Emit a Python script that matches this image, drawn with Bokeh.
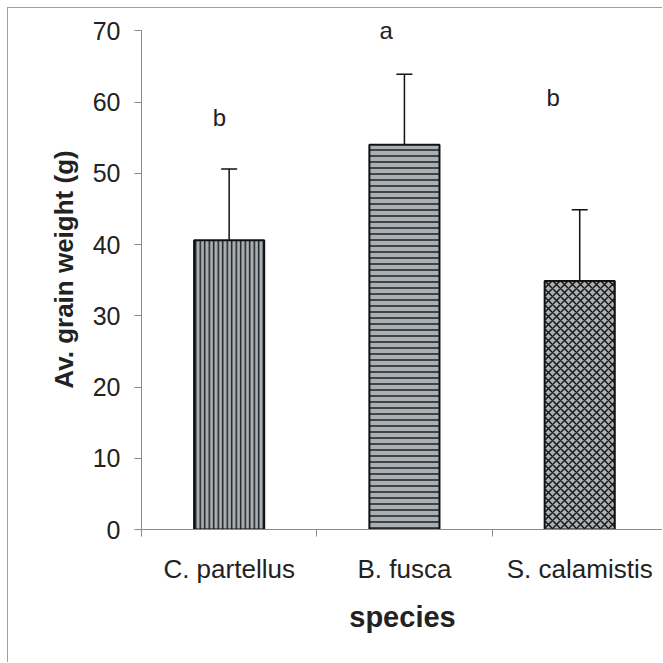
from bokeh.plotting import figure
from bokeh.models import (ColumnDataSource, Range1d, FixedTicker, Whisker, TeeHead,
                          LabelSet)
from bokeh.core.properties import value
from bokeh.embed import file_html
from bokeh.resources import INLINE

# ---- data ----
species = ["C. partellus", "B. fusca", "S. calamistis"]
mean_weight = [40.6, 54.0, 34.9]
err_upper = [10.0, 9.9, 10.0]
hatches = ["vertical_line", "horizontal_line", "diagonal_cross"]
hatch_scales = [4.5, 6.0, 8.0]
sig_letters = ["b", "a", "b"]
letter_x = [0.444, 1.396, 2.349]
letter_y = [57.9, 70.1, 60.7]
y_ticks = [0, 10, 20, 30, 40, 50, 60, 70]
y_max = 70

FONT = "Liberation Sans"
TXT = "#222222"
AX = "#8a8a8a"

xc = [i + 0.5 for i in range(len(species))]
tops = [m + e for m, e in zip(mean_weight, err_upper)]
bars = ColumnDataSource(dict(x=xc, top=mean_weight, hatch=hatches, hs=hatch_scales))
errs = ColumnDataSource(dict(x=xc, lower=mean_weight, upper=tops))
lets = ColumnDataSource(dict(x=letter_x, y=letter_y, t=sig_letters))

p = figure(width=655, height=655, output_backend="svg", toolbar_location=None,
           x_range=Range1d(0, 2.978), y_range=Range1d(0, 73.0),
           min_border_left=133, min_border_right=0, min_border_top=1,
           min_border_bottom=134)
p.styles = {"margin-left": "7px", "margin-top": "7px",
            "border-left": "1px solid #9aa0a6", "border-top": "1px solid #9aa0a6"}
p.outline_line_color = None
p.xgrid.grid_line_color = None
p.ygrid.grid_line_color = None
p.background_fill_color = "white"
p.border_fill_color = "white"

p.vbar(x="x", top="top", bottom=0, width=0.4, source=bars,
       fill_color="#a9afb3", line_color="#111111", line_width=2,
       hatch_pattern="hatch", hatch_scale="hs", hatch_color="#141414",
       hatch_weight=1.4)

p.add_layout(Whisker(base="x", lower="lower", upper="upper", source=errs,
                     dimension="height", line_color="#111111", line_width=1.5,
                     lower_head=None,
                     upper_head=TeeHead(size=16, line_color="#111111", line_width=1.5)))

p.add_layout(LabelSet(x="x", y="y", text="t", source=lets, text_align="center",
                      text_baseline="middle", text_font=value(FONT),
                      text_font_size="24px", text_color=TXT))

# y axis
ya = p.yaxis[0]
ya.bounds = (0, y_max)
ya.ticker = FixedTicker(ticks=y_ticks)
ya.minor_tick_line_color = None
ya.major_tick_in = 0
ya.major_tick_out = 7
ya.axis_line_color = AX
ya.major_tick_line_color = AX
ya.major_label_standoff = 14
ya.major_label_text_font = FONT
ya.major_label_text_font_size = "25px"
ya.major_label_text_color = TXT
ya.axis_label = "Av. grain weight (g)"
ya.axis_label_text_font = FONT
ya.axis_label_text_font_style = "bold"
ya.axis_label_text_font_size = "26px"
ya.axis_label_text_color = TXT
ya.axis_label_standoff = 11

# x axis: labels at category centres, ticks at category boundaries
xa = p.xaxis[0]
xa.ticker = FixedTicker(ticks=xc, minor_ticks=list(range(len(species) + 1)))
xa.major_label_overrides = {c: s for c, s in zip(xc, species)}
xa.major_tick_in = 0
xa.major_tick_out = 0
xa.minor_tick_in = 0
xa.minor_tick_out = 7
xa.minor_tick_line_color = AX
xa.axis_line_color = AX
xa.major_label_standoff = 17
xa.major_label_text_font = FONT
xa.major_label_text_font_size = "26px"
xa.major_label_text_color = TXT
xa.axis_label = "species"
xa.axis_label_text_font = FONT
xa.axis_label_text_font_style = "bold"
xa.axis_label_text_font_size = "29px"
xa.axis_label_text_color = TXT
xa.axis_label_standoff = 14

open("out.html", "w").write(file_html(p, INLINE))
